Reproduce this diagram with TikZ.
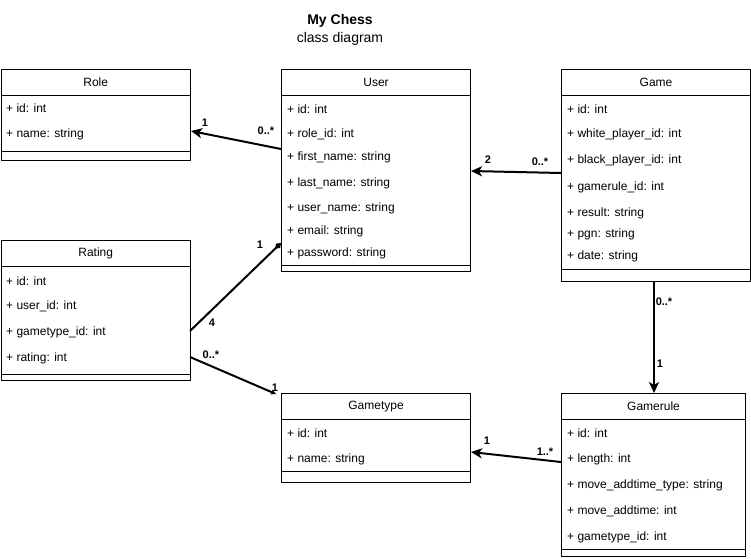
\documentclass[tikz,border=0pt]{standalone}
\usepackage{fontspec}
\setmainfont{Liberation Sans}
\usetikzlibrary{arrows.meta,positioning,calc}
\definecolor{ink}{HTML}{000000}
\definecolor{paper}{HTML}{FFFFFF}
\tikzset{
  % ---- class boxes -----------------------------------------------
  clshead/.style  = {draw=ink, line width=1pt, fill=paper, inner sep=0pt,
                     anchor=north west, minimum height=26pt,
                     font=\fontsize{12}{14}\selectfont},
  clsbody/.style  = {draw=ink, line width=1pt, fill=paper, inner sep=0pt,
                     anchor=north west},
  attr/.style     = {anchor=west, inner sep=0pt, text=ink,
                     font=\fontsize{12}{14}\selectfont},
  % ---- associations ----------------------------------------------
  assoc/.style    = {draw=ink, line width=2pt,
                     -{Stealth[length=11pt, width=10pt, inset=3pt]}},
  aggr/.style     = {draw=ink, line width=2pt,
                     -{Diamond[length=8pt, width=6pt]}},
  smallend/.style = {draw=ink, line width=2pt,
                     -{Stealth[length=5pt, width=5pt, inset=1pt]}},
  mult/.style     = {font=\fontsize{11}{13}\selectfont\bfseries, text=ink,
                     inner sep=0pt},
  % ---- title -----------------------------------------------------
  ttl/.style      = {font=\fontsize{14}{16}\selectfont\bfseries, inner sep=0pt},
  subttl/.style   = {font=\fontsize{14}{16}\selectfont, inner sep=0pt},
}

\begin{document}
\begin{tikzpicture}[x=1pt, y=-1pt]
\useasboundingbox (0,0) rectangle (751,558);
\node[ttl] (title) at (340,21) {My Chess};
\node[subttl] (subtitle) at (340,39) {class diagram};

% ---- Role ----
\node[clshead, minimum width=189.5pt] (roleHd) at (0.5,69) {Role};
\node[clsbody, minimum width=189.5pt, minimum height=56pt] (roleBd) at (0.5,95) {};
\node[clsbody, minimum width=189.5pt, minimum height=9pt] (roleFt) at (0.5,151) {};
\node[attr] (roleR1) at (6,108) {+ id: int};
\node[attr] (roleR2) at (6,134) {+ name: string};

% ---- User ----
\node[clshead, minimum width=189pt] (userHd) at (281,69) {User};
\node[clsbody, minimum width=189pt, minimum height=170pt] (userBd) at (281,95) {};
\node[clsbody, minimum width=189pt, minimum height=6pt] (userFt) at (281,265) {};
\node[attr] (userR1) at (287,109) {+ id: int};
\node[attr] (userR2) at (287,134) {+ role\_id: int};
\node[attr] (userR3) at (287,157) {+ first\_name: string};
\node[attr] (userR4) at (287,183) {+ last\_name: string};
\node[attr] (userR5) at (287,208) {+ user\_name: string};
\node[attr] (userR6) at (287,231) {+ email: string};
\node[attr] (userR7) at (287,253) {+ password: string};

% ---- Game ----
\node[clshead, minimum width=189pt] (gameHd) at (561,69) {Game};
\node[clsbody, minimum width=189pt, minimum height=174pt] (gameBd) at (561,95) {};
\node[clsbody, minimum width=189pt, minimum height=12pt] (gameFt) at (561,269) {};
\node[attr] (gameR1) at (567,109) {+ id: int};
\node[attr] (gameR2) at (567,134) {+ white\_player\_id: int};
\node[attr] (gameR3) at (567,160) {+ black\_player\_id: int};
\node[attr] (gameR4) at (567,187) {+ gamerule\_id: int};
\node[attr] (gameR5) at (567,213) {+ result: string};
\node[attr] (gameR6) at (567,234) {+ pgn: string};
\node[attr] (gameR7) at (567,256) {+ date: string};

% ---- Rating ----
\node[clshead, minimum width=189.5pt] (ratingHd) at (0.5,240) {Rating};
\node[clsbody, minimum width=189.5pt, minimum height=108pt] (ratingBd) at (0.5,266) {};
\node[clsbody, minimum width=189.5pt, minimum height=6pt] (ratingFt) at (0.5,374) {};
\node[attr] (ratingR1) at (6,281) {+ id: int};
\node[attr] (ratingR2) at (6,306) {+ user\_id: int};
\node[attr] (ratingR3) at (6,332) {+ gametype\_id: int};
\node[attr] (ratingR4) at (6,358) {+ rating: int};

% ---- Gametype ----
\node[clshead, minimum width=189pt] (gtypeHd) at (281,393) {Gametype};
\node[clsbody, minimum width=189pt, minimum height=52pt] (gtypeBd) at (281,419) {};
\node[clsbody, minimum width=189pt, minimum height=11pt] (gtypeFt) at (281,471) {};
\node[attr] (gtypeR1) at (287,433) {+ id: int};
\node[attr] (gtypeR2) at (287,459) {+ name: string};

% ---- Gamerule ----
\node[clshead, minimum width=184pt] (gruleHd) at (561,393) {Gamerule};
\node[clsbody, minimum width=184pt, minimum height=130pt] (gruleBd) at (561,419) {};
\node[clsbody, minimum width=184pt, minimum height=7pt] (gruleFt) at (561,549) {};
\node[attr] (gruleR1) at (567,433) {+ id: int};
\node[attr] (gruleR2) at (567,459) {+ length: int};
\node[attr] (gruleR3) at (567,485) {+ move\_addtime\_type: string};
\node[attr] (gruleR4) at (567,511) {+ move\_addtime: int};
\node[attr] (gruleR5) at (567,537) {+ gametype\_id: int};

% ---- connector ends ----
\coordinate (userToRole) at (281,149);
\coordinate (roleIn) at (191,131);
\coordinate (gameToUser) at (561,173);
\coordinate (userIn) at (471,171);
\coordinate (ratingToUser) at (190,331);
\coordinate (userAgg) at (281,243);
\coordinate (ratingToGtype) at (190,357);
\coordinate (gtypeCorner) at (276,394);
\coordinate (gameToRule) at (654,281);
\coordinate (ruleIn) at (654,393);
\coordinate (ruleToGtype) at (561,462);
\coordinate (gtypeIn) at (471,452);

\draw[assoc] (userToRole) -- (roleIn);
\draw[assoc] (gameToUser) -- (userIn);
\draw[aggr] (ratingToUser) -- (userAgg);
\draw[smallend] (ratingToGtype) -- (gtypeCorner);
\draw[assoc] (gameToRule) -- (ruleIn);
\draw[assoc] (ruleToGtype) -- (gtypeIn);

% ---- multiplicities ----
\node[mult] (mRole) at (205,123) {1};
\node[mult] (mUserRole) at (266,131) {0..*};
\node[mult] (mUserGame) at (488,160) {2};
\node[mult] (mGameUser) at (540,162) {0..*};
\node[mult] (mUserRating) at (260,245) {1};
\node[mult] (mRatingUser) at (212,323) {4};
\node[mult] (mRatingGt) at (211,355) {0..*};
\node[mult] (mGtRating) at (275,388) {1};
\node[mult] (mGameRule) at (664,302) {0..*};
\node[mult] (mRuleGame) at (660,364) {1};
\node[mult] (mGtRule) at (487,441) {1};
\node[mult] (mRuleGt) at (545,452) {1..*};
\end{tikzpicture}
\end{document}
